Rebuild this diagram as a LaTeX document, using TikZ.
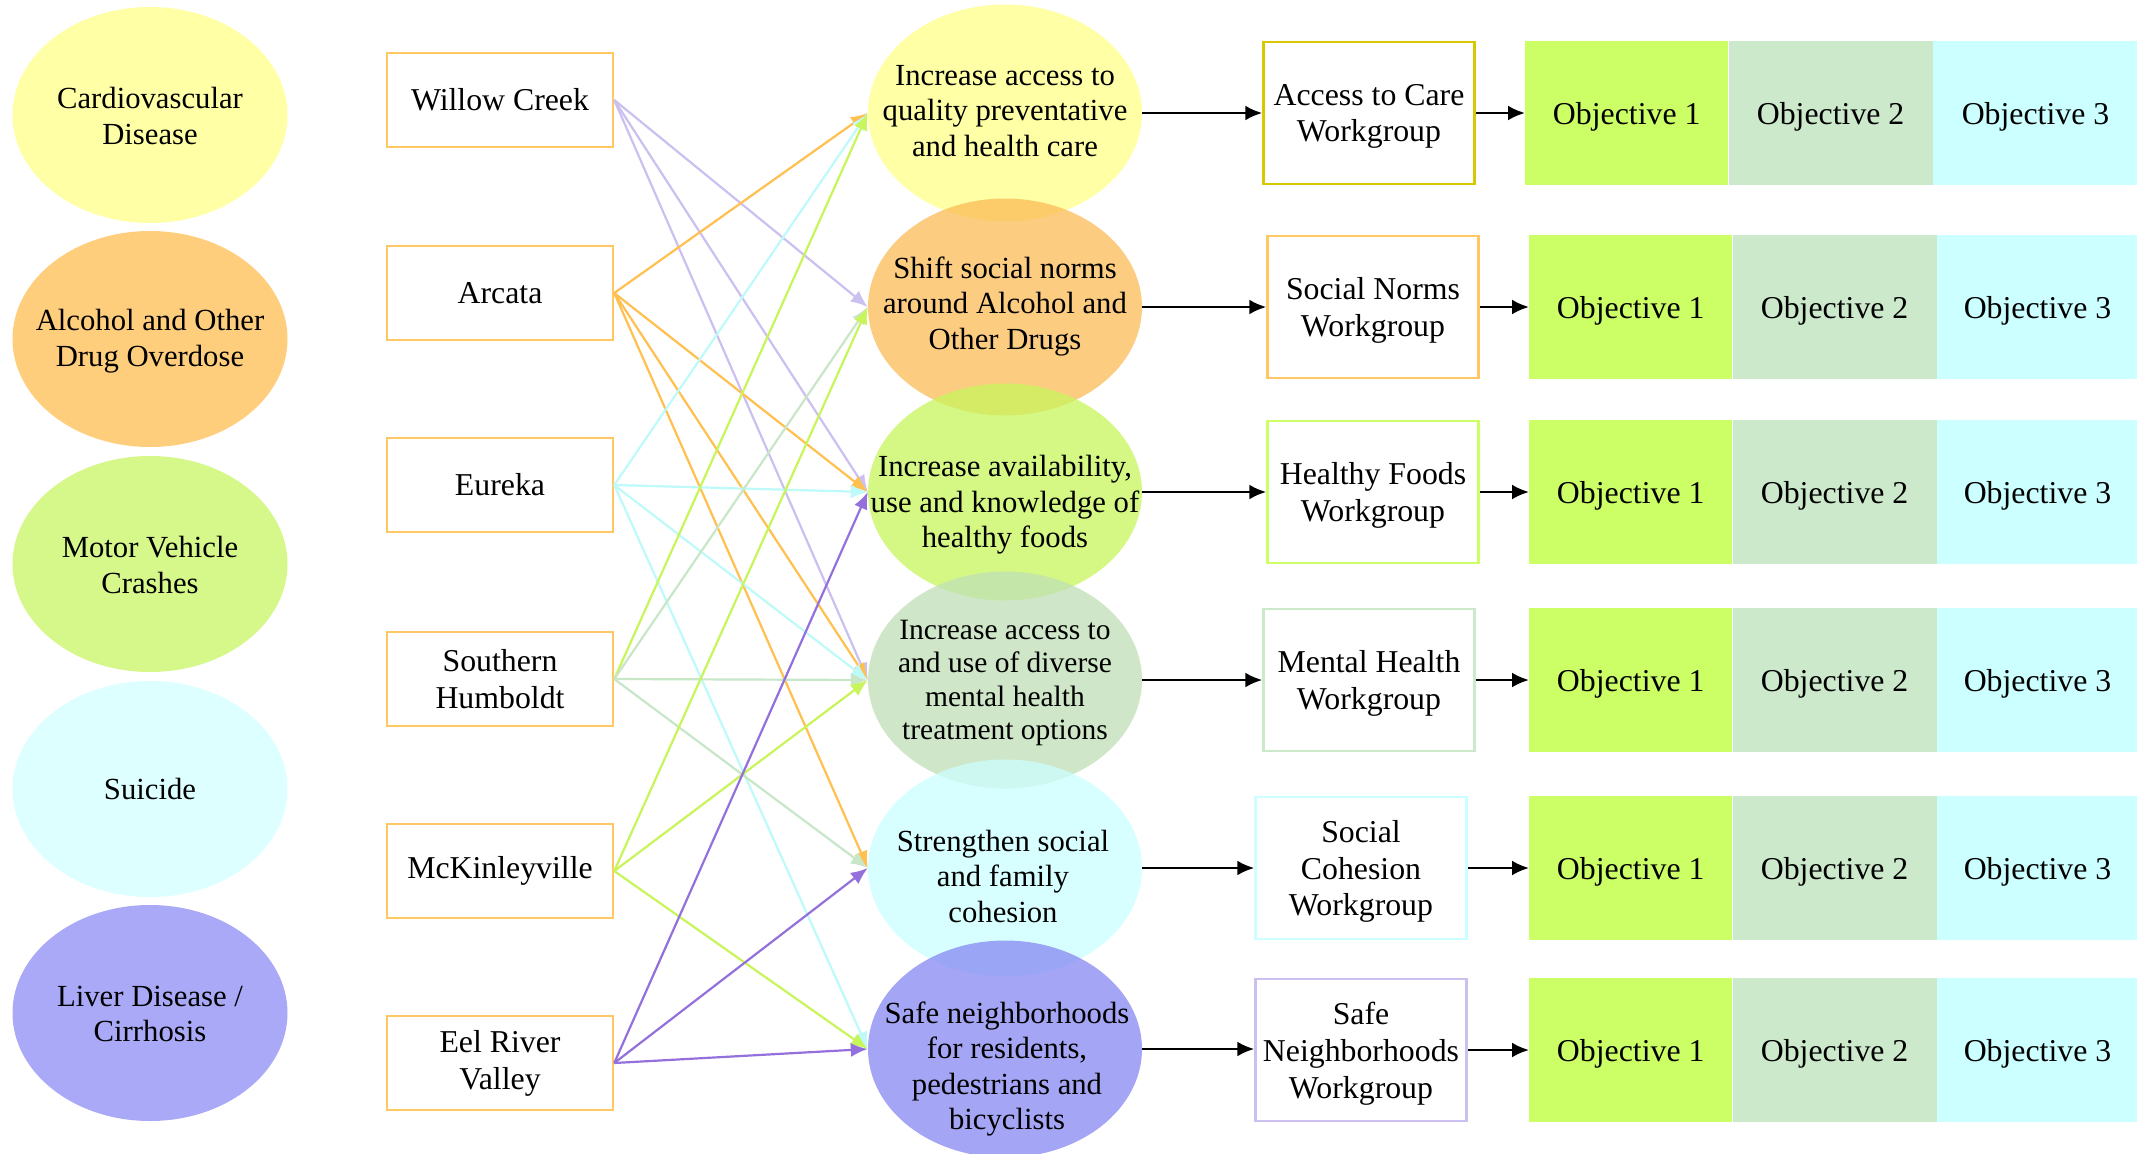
\documentclass[tikz,border=0pt]{standalone}
\usepackage{fontspec}
\setmainfont{Liberation Serif}
\usetikzlibrary{shapes.geometric,arrows.meta,calc}

% fills of the outcome ellipses
\definecolor{cardio}{RGB}{255,255,166}
\definecolor{alcohol}{RGB}{255,206,124}
\definecolor{motor}{RGB}{214,248,138}
\definecolor{suicide}{RGB}{221,255,255}
\definecolor{liver}{RGB}{169,169,247}
% fills of the strategy ellipses (drawn semi-transparent)
\definecolor{gAccess}{RGB}{255,255,136}
\definecolor{gShift}{RGB}{251,188,88}
\definecolor{gAvail}{RGB}{200,246,92}
\definecolor{gMental}{RGB}{191,224,182}
\definecolor{gCohesion}{RGB}{203,255,255}
\definecolor{gSafe}{RGB}{135,135,244}
% connector and border colours
\definecolor{townline}{RGB}{255,200,100}
\definecolor{cLav}{RGB}{204,192,240}
\definecolor{cOrange}{RGB}{255,192,80}
\definecolor{cCyan}{RGB}{190,250,250}
\definecolor{cLime}{RGB}{200,245,90}
\definecolor{cMint}{RGB}{200,230,200}
\definecolor{cPurple}{RGB}{147,112,219}
\definecolor{wYellow}{RGB}{216,200,0}
% objective cells
\definecolor{objA}{RGB}{204,255,102}
\definecolor{objB}{RGB}{204,233,204}
\definecolor{objC}{RGB}{204,255,255}

\newcommand\mainsize{\fontsize{30.7}{35.5}\selectfont}
\newcommand\smallersize{\fontsize{29.5}{33.6}\selectfont}
\newcommand\boxsize{\fontsize{31.8}{36.8}\selectfont}

\tikzset{
  outcome/.style={ellipse, draw=none, minimum width=275pt, minimum height=216pt,
    inner sep=0pt},
  labeltext/.style={align=center, inner sep=0pt},
  town/.style={rectangle, draw=townline, line width=2.5pt, fill=white,
    minimum width=226pt, minimum height=94pt, inner sep=0pt, align=center, font=\boxsize},
  goal/.style={ellipse, draw=none, minimum width=274pt, minimum height=217pt,
    inner sep=0pt, fill opacity=0.75},
  wgroup/.style={rectangle, line width=2.5pt, fill=white, minimum width=211pt,
    minimum height=142pt, inner sep=0pt, align=center, font=\boxsize, text depth=0pt},
  objcell/.style={rectangle, draw=none, minimum height=144pt, inner sep=0pt,
    anchor=west, font=\boxsize, text depth=0pt},
  link/.style={line width=2.2pt, -{Latex[length=17pt,width=14pt]}},
  flow/.style={line width=2.5pt, black, -{Latex[length=17pt,width=15pt]}}
}

\begin{document}
\begin{tikzpicture}[x=1pt,y=-1pt,font=\mainsize]
\fill[white] (0,0) rectangle (2137,1154);
\useasboundingbox (0,0) rectangle (2137,1154);

% health outcomes
\node[outcome, fill=cardio]  (o1) at (150,115)  {};
\node[outcome, fill=alcohol] (o2) at (150,339)  {};
\node[outcome, fill=motor]   (o3) at (150,564)  {};
\node[outcome, fill=suicide] (o4) at (150,789)  {};
\node[outcome, fill=liver]   (o5) at (150,1013) {};
\node[labeltext] (o1t) at (150,116)  {Cardiovascular\\Disease};
\node[labeltext] (o2t) at (150,341)  {Alcohol and Other\\Drug Overdose};
\node[labeltext] (o3t) at (150,565)  {Motor Vehicle\\Crashes};
\node[labeltext] (o4t) at (150,789)  {Suicide};
\node[labeltext] (o5t) at (150,1014) {Liver Disease /\\Cirrhosis};

% communities
\node[town] (t1) at (500,100)  {Willow Creek};
\node[town] (t2) at (500,293)  {Arcata};
\node[town] (t3) at (500,485)  {Eureka};
\node[town] (t4) at (500,679)  {Southern\\Humboldt};
\node[town] (t5) at (500,871)  {McKinleyville};
\node[town] (t6) at (500,1063) {Eel River\\Valley};

% strategies
\node[goal, fill=gAccess]   (g1) at (1005,113)  {};
\node[goal, fill=gShift]    (g2) at (1005,307)  {};
\node[goal, fill=gAvail]    (g3) at (1005,492)  {};
\node[goal, fill=gMental]   (g4) at (1005,680)  {};
\node[goal, fill=gCohesion] (g5) at (1005,868)  {};
\node[goal, fill=gSafe]     (g6) at (1005,1049) {};

\node[labeltext] (g1t) at (1005,111)  {Increase access to\\quality preventative\\and health care};
\node[labeltext] (g2t) at (1005,306)  {Shift social norms\\around Alcohol and\\Other Drugs};
\node[labeltext] (g3t) at (1005,505)  {Increase availability,\\use and knowledge of\\healthy foods};
\node[labeltext, font=\smallersize] (g4t) at (1005,683) {Increase access to\\and use of diverse\\mental health\\treatment options};
\node[labeltext] (g5t) at (1003,876)  {Strengthen social\\and family\\cohesion};
\node[labeltext] (g6t) at (1007,1069) {Safe neighborhoods\\for residents,\\pedestrians and\\bicyclists};

% community-to-strategy links
\draw[link, cLav] (t1.east) -- (g2.west);
\draw[link, cLav] (t1.east) -- (g3.west);
\draw[link, cLav] (t1.east) -- (g4.west);

\draw[link, cOrange] (t2.east) -- (g1.west);
\draw[link, cOrange] (t2.east) -- (g3.west);
\draw[link, cOrange] (t2.east) -- (g4.west);
\draw[link, cOrange] (t2.east) -- (g5.west);

\draw[link, cCyan] (t3.east) -- (g1.west);
\draw[link, cCyan] (t3.east) -- (g3.west);
\draw[link, cCyan] (t3.east) -- (g4.west);
\draw[link, cCyan] (t3.east) -- (g6.west);

\draw[link, cLime] (t4.east) -- (g1.west);
\draw[link, cMint] (t4.east) -- (g2.west);
\draw[link, cMint] (t4.east) -- (g4.west);
\draw[link, cMint] (t4.east) -- (g5.west);

\draw[link, cLime] (t5.east) -- (g2.west);
\draw[link, cLime] (t5.east) -- (g4.west);
\draw[link, cLime] (t5.east) -- (g6.west);

\draw[link, cPurple] (t6.east) -- (g3.west);
\draw[link, cPurple] (t6.east) -- (g5.west);
\draw[link, cPurple] (t6.east) -- (g6.west);

% workgroups
\node[wgroup, draw=wYellow]  (w1) at (1369,113)  {Access to Care\\Workgroup};
\node[wgroup, draw=townline] (w2) at (1373,307)  {Social Norms\\Workgroup};
\node[wgroup, draw=objA]     (w3) at (1373,492)  {Healthy Foods\\Workgroup};
\node[wgroup, draw=objB]     (w4) at (1369,680)  {Mental Health\\Workgroup};
\node[wgroup, draw=objC]     (w5) at (1361,868)  {Social\\Cohesion\\Workgroup};
\node[wgroup, draw=cLav]     (w6) at (1361,1050) {Safe\\Neighborhoods\\Workgroup};

% objective rows
\node[objcell, fill=objA, minimum width=203pt] (r1a) at (1525,113) {Objective 1};
\node[objcell, fill=objB, minimum width=204pt] (r1b) at (r1a.east) {Objective 2};
\node[objcell, fill=objC, minimum width=205pt] (r1c) at (r1b.east) {Objective 3};

\node[objcell, fill=objA, minimum width=203pt] (r2a) at (1529,307) {Objective 1};
\node[objcell, fill=objB, minimum width=204pt] (r2b) at (r2a.east) {Objective 2};
\node[objcell, fill=objC, minimum width=201pt] (r2c) at (r2b.east) {Objective 3};

\node[objcell, fill=objA, minimum width=203pt] (r3a) at (1529,492) {Objective 1};
\node[objcell, fill=objB, minimum width=204pt] (r3b) at (r3a.east) {Objective 2};
\node[objcell, fill=objC, minimum width=201pt] (r3c) at (r3b.east) {Objective 3};

\node[objcell, fill=objA, minimum width=203pt] (r4a) at (1529,680) {Objective 1};
\node[objcell, fill=objB, minimum width=204pt] (r4b) at (r4a.east) {Objective 2};
\node[objcell, fill=objC, minimum width=201pt] (r4c) at (r4b.east) {Objective 3};

\node[objcell, fill=objA, minimum width=203pt] (r5a) at (1529,868) {Objective 1};
\node[objcell, fill=objB, minimum width=204pt] (r5b) at (r5a.east) {Objective 2};
\node[objcell, fill=objC, minimum width=201pt] (r5c) at (r5b.east) {Objective 3};

\node[objcell, fill=objA, minimum width=203pt] (r6a) at (1529,1050) {Objective 1};
\node[objcell, fill=objB, minimum width=204pt] (r6b) at (r6a.east) {Objective 2};
\node[objcell, fill=objC, minimum width=201pt] (r6c) at (r6b.east) {Objective 3};

% strategy -> workgroup -> objectives
\draw[flow] (g1.east) -- (g1.east -| w1.west);
\draw[flow] (g2.east) -- (g2.east -| w2.west);
\draw[flow] (g3.east) -- (g3.east -| w3.west);
\draw[flow] (g4.east) -- (g4.east -| w4.west);
\draw[flow] (g5.east) -- (g5.east -| w5.west);
\draw[flow] (g6.east) -- (g6.east -| w6.west);

\draw[flow] (r1a.west -| w1.east) -- (r1a.west);
\draw[flow] (r2a.west -| w2.east) -- (r2a.west);
\draw[flow] (r3a.west -| w3.east) -- (r3a.west);
\draw[flow] (r4a.west -| w4.east) -- (r4a.west);
\draw[flow] (r5a.west -| w5.east) -- (r5a.west);
\draw[flow] (r6a.west -| w6.east) -- (r6a.west);
\end{tikzpicture}
\end{document}
